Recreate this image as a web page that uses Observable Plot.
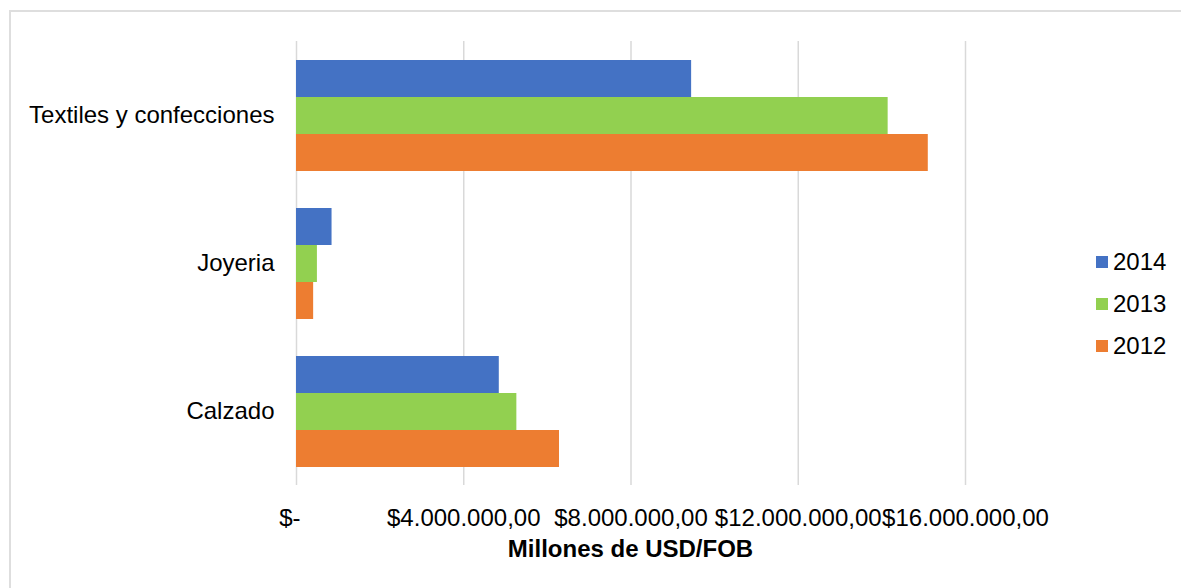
<!DOCTYPE html>
<html>
<head>
<meta charset="utf-8">
<script src="https://cdn.jsdelivr.net/npm/d3@7"></script>
<script src="https://cdn.jsdelivr.net/npm/@observablehq/plot@0.6"></script>
<style>
  html, body { margin: 0; padding: 0; background: #fff; }
  #wrap { position: relative; width: 1181px; height: 588px; overflow: hidden; font-family: "Liberation Sans", Arial, sans-serif; }
  #frame { position: absolute; left: 9px; top: 10px; right: -10px; bottom: -10px; border-left: 2px solid #dedede; border-top: 2px solid #dedede; }
  #legend { position: absolute; left: 1096px; top: 241px; font-size: 24px; color: #000; }
  #legend .row { display: flex; align-items: center; height: 42px; }
  #legend .sw { width: 12px; height: 12px; margin-right: 5px; }
  #chart { position: absolute; left: 0; top: 0; }
</style>
</head>
<body>
<div id="wrap">
  <div id="frame"></div>
  <div id="chart"></div>
  <div id="legend"></div>
</div>
<script>
const categories = ["Textiles y confecciones", "Joyeria", "Calzado"];
const years = ["2014", "2013", "2012"];
const colors = ["#4472C4", "#92D050", "#ED7D31"];
const values2014 = [9450000, 850000, 4850000];
const values2013 = [14150000, 500000, 5270000];
const values2012 = [15110000, 410000, 6290000];
const xTicks = [0, 4000000, 8000000, 12000000, 16000000];
const xTitle = "Millones de USD/FOB";

const series = {"2014": values2014, "2013": values2013, "2012": values2012};
const rows = [];
categories.forEach((c, i) => {
  years.forEach(y => rows.push({category: c, year: y, value: series[y][i]}));
});

const locale = d3.formatLocale({decimal: ",", thousands: ".", grouping: [3], currency: ["$", ""]});
const fmt = locale.format("$,.2f");
const tickFormat = v => v === 0 ? "$-\u00a0\u00a0" : fmt(v);

const plot = Plot.plot({
  width: 1181,
  height: 588,
  marginLeft: 296,
  marginRight: 216,
  marginTop: 40,
  marginBottom: 103,
  style: {fontSize: "24px", fontFamily: "'Liberation Sans', Arial, sans-serif", color: "#000", background: "transparent"},
  facet: {data: rows, y: "category"},
  fy: {domain: categories, padding: 0, axis: "left", label: null, tickSize: 0, tickPadding: 22},
  y: {domain: years, paddingInner: 0, paddingOuter: 0.5, axis: null},
  x: {domain: [0, 16000000], ticks: xTicks, tickFormat, tickSize: 0, tickPadding: 23, label: null},
  color: {domain: years, range: colors},
  marks: [
    Plot.ruleX(xTicks, {x: d => d, stroke: "#d9d9d9", strokeWidth: 1.5}),
    Plot.barX(rows, {x: "value", y: "year", fill: "year"})
  ]
});
document.getElementById("chart").appendChild(plot);

const xs = plot.scale("x");
const mid = (xs.range[0] + xs.range[1]) / 2;
d3.select(plot).append("text")
  .attr("x", mid).attr("y", 549).attr("dy", "0.35em")
  .attr("text-anchor", "middle")
  .attr("fill", "#000")
  .style("font-weight", "bold")
  .style("font-size", "24px")
  .text(xTitle);

const legend = d3.select("#legend");
years.forEach((y, i) => {
  const r = legend.append("div").attr("class", "row");
  r.append("div").attr("class", "sw").style("background", colors[i]);
  r.append("span").text(y);
});
</script>
</body>
</html>
